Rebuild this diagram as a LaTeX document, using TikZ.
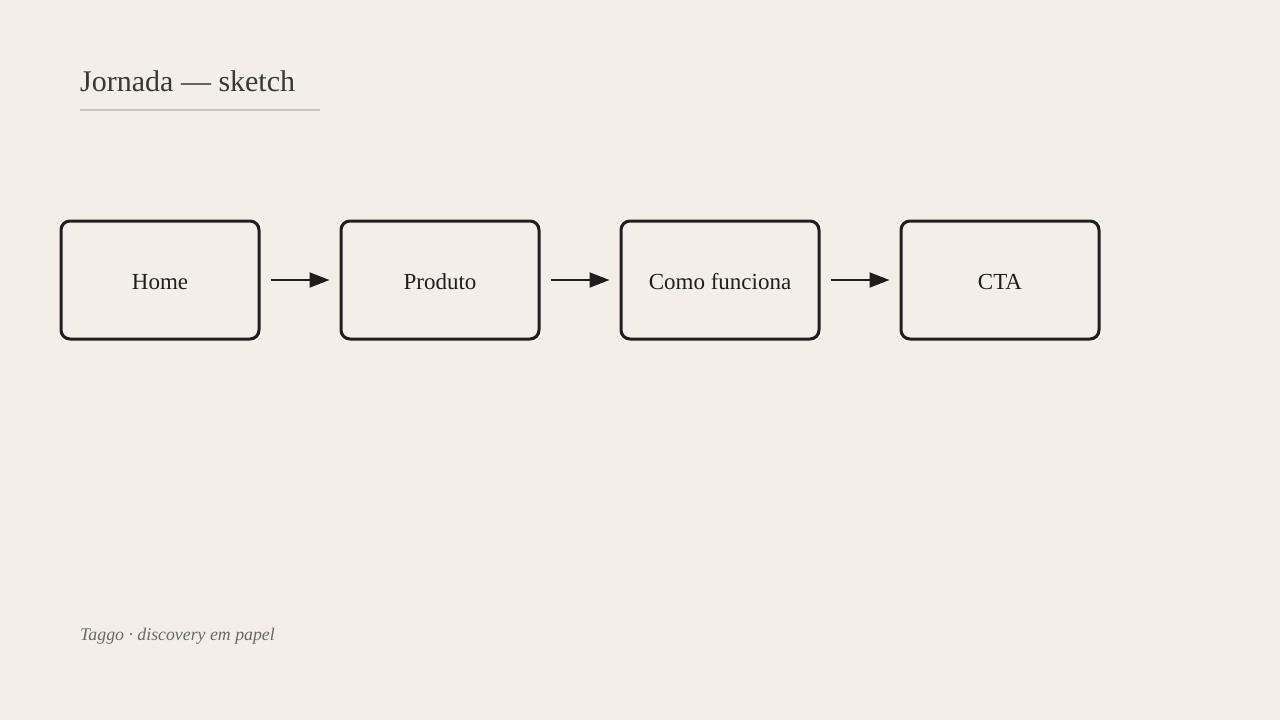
\documentclass[tikz,border=0pt]{standalone}
\usepackage{fontspec}
\setmainfont{Liberation Serif}
\usetikzlibrary{arrows.meta}
\definecolor{bg}{HTML}{F3EEE7}
\definecolor{ink}{HTML}{1E1E1E}
\definecolor{titleink}{HTML}{3A3835}
\definecolor{rulegray}{HTML}{C9C5BE}
\definecolor{footink}{HTML}{6B6864}
\tikzset{
  stage/.style={draw=ink, line width=3pt, rounded corners=9pt, fill=bg,
    minimum width=198pt, minimum height=118pt, inner sep=0pt,
    text height=19.6pt, text depth=0pt,
    font=\fontsize{23}{26}\selectfont, text=ink},
  flow/.style={draw=ink, line width=2pt, -{Triangle[length=20pt,width=15pt]}}
}
\begin{document}
\begin{tikzpicture}[x=1pt,y=-1pt]
\fill[bg] (0,0) rectangle (1280,720);
\useasboundingbox (0,0) rectangle (1280,720);
\node[anchor=base west, inner sep=0pt, text=titleink, font=\fontsize{30}{34}\selectfont] (title) at (80,91) {Jornada — sketch};
\coordinate (ruleA) at (80,110);
\coordinate (ruleB) at (320,110);
\draw[rulegray, line width=2pt] (ruleA) -- (ruleB);
\node[stage] (home) at (160,280) {Home};
\node[stage] (prod) at (440,280) {Produto};
\node[stage] (como) at (720,280) {Como funciona};
\node[stage] (cta) at (1000,280) {CTA};
\draw[flow] ([xshift=10pt]home.east) -- ([xshift=-10pt]prod.west);
\draw[flow] ([xshift=10pt]prod.east) -- ([xshift=-10pt]como.west);
\draw[flow] ([xshift=10pt]como.east) -- ([xshift=-10pt]cta.west);
\node[anchor=base west, inner sep=0pt, text=footink, font=\fontsize{17.8}{20}\selectfont\itshape] (foot) at (80,640) {Taggo · discovery em papel};
\end{tikzpicture}
\end{document}
